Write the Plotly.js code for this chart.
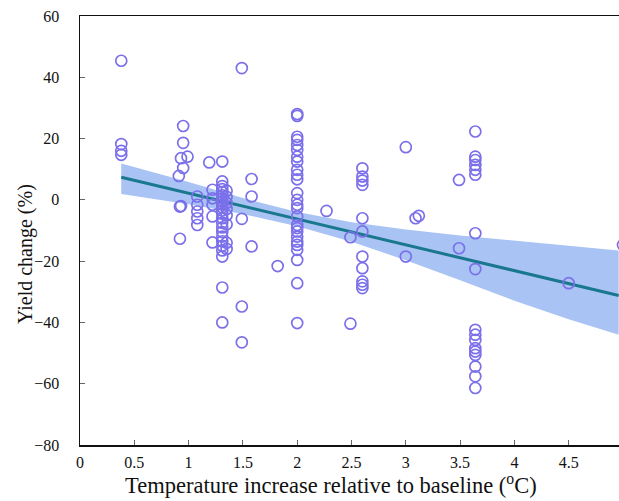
<!DOCTYPE html>
<html>
<head>
<meta charset="utf-8">
<script src="https://cdn.plot.ly/plotly-3.0.1.min.js"></script>
<style>html,body{margin:0;padding:0;background:#fff;}#chart{width:619px;height:501px;}</style>
</head>
<body>
<div id="chart"></div>
<script>
// Observations: temperature increase (°C) and yield change (%)
const tempX = [
  0.38, 0.38, 0.38, 0.38,
  0.95, 0.95, 0.93, 0.99, 0.95, 0.91, 0.92, 0.93, 0.92,
  1.19, 1.31,
  1.08, 1.08, 1.08, 1.08, 1.08,
  1.22, 1.22, 1.22, 1.22, 1.22,
  1.31, 1.31, 1.31, 1.31, 1.31, 1.31, 1.31, 1.31, 1.31, 1.31,
  1.31, 1.31, 1.31, 1.31, 1.31, 1.31, 1.31, 1.31, 1.31, 1.31,
  1.35, 1.35, 1.35, 1.35, 1.35, 1.35, 1.35, 1.35,
  1.31, 1.31, 1.49, 1.49,
  1.49, 1.58, 1.58, 1.49, 1.58,
  1.82,
  2.0, 2.0, 2.0, 2.0, 2.0, 2.0, 2.0, 2.0, 2.0, 2.0, 2.0, 2.0, 2.0,
  2.0, 2.0, 2.0, 2.0, 2.0, 2.0, 2.0, 2.0, 2.0, 2.0, 2.0, 2.0, 2.0,
  2.27,
  2.49, 2.49,
  2.6, 2.6, 2.6, 2.6, 2.6, 2.6, 2.6, 2.6, 2.6, 2.6, 2.6,
  3.0, 3.0, 3.09, 3.12,
  3.49, 3.49,
  3.64, 3.64, 3.64, 3.64, 3.64, 3.64, 3.64, 3.64, 3.64,
  3.64, 3.64, 3.64, 3.64, 3.64, 3.64, 3.64, 3.64,
  4.5,
  5.0
];
const yieldY = [
  45.4, 18.2, 16.0, 14.7,
  24.1, 18.6, 13.6, 14.1, 10.4, 7.8, -2.2, -2.0, -12.7,
  12.2, 12.5,
  1.1, -1.6, -3.8, -6.0, -8.2,
  3.3, 0.5, -1.6, -5.4, -13.9,
  6.0, 4.5, 3.5, 2.5, 1.5, 0.5, -0.5, -1.5, -2.5, -3.5,
  -4.5, -6.0, -7.5, -9.0, -10.5, -12.0, -13.5, -15.0, -16.5, -18.5,
  3.0, 1.0, -1.0, -3.0, -5.0, -8.0, -14.0, -16.0,
  -28.6, -40.0, -34.8, -46.5,
  43.0, 6.8, 1.1, -6.2, -15.2,
  -21.6,
  28.0, 27.4, 20.6, 19.6, 17.9, 16.3, 14.1, 12.5, 9.8, 8.2, 6.7, 2.2, 0.0,
  -1.6, -2.7, -5.4, -8.2, -9.2, -10.3, -12.0, -13.6, -14.7, -16.3, -19.6, -27.2, -40.2,
  -3.6,
  -12.2, -40.4,
  10.3, 7.6, 6.3, 4.9, -6.0, -10.3, -18.5, -22.3, -26.6, -27.7, -28.8,
  17.2, -18.5, -6.0, -5.2,
  6.5, -15.8,
  22.3, 14.1, 13.0, 11.4, 9.8, 8.2, -10.9, -22.6, -42.4,
  -44.0, -45.7, -48.4, -49.5, -50.6, -54.4, -57.6, -61.4,
  -27.2,
  -14.7
];

// Fitted regression line and its confidence band
const fitX     = [0.38, 1.0, 1.5, 2.0, 2.5, 3.0, 3.5, 4.0, 4.5, 4.96];
const fitY     = [7.4, 2.2, -2.0, -6.3, -10.5, -14.7, -18.9, -23.1, -27.3, -31.2];
const fitUpper = [11.9, 5.8, 0.6, -4.0, -7.3, -9.7, -11.6, -13.3, -15.0, -16.5];
const fitLower = [1.9, -1.4, -4.6, -8.6, -13.7, -19.7, -26.2, -32.9, -39.0, -44.0];

const xTickVals = [0, 0.5, 1, 1.5, 2, 2.5, 3, 3.5, 4, 4.5];
const xTickText = ['0', '0.5', '1', '1.5', '2', '2.5', '3', '3.5', '4', '4.5'];
const yTickVals = [-80, -60, -40, -20, 0, 20, 40, 60];

const FONT = '"Liberation Serif", "DejaVu Serif", serif';

const traces = [
  {x: fitX, y: fitLower, type: 'scatter', mode: 'lines', line: {width: 0, color: 'rgba(0,0,0,0)'}, hoverinfo: 'skip', showlegend: false},
  {x: fitX, y: fitUpper, type: 'scatter', mode: 'lines', fill: 'tonexty', fillcolor: '#a9c3f5', line: {width: 0, color: 'rgba(0,0,0,0)'}, hoverinfo: 'skip', showlegend: false},
  {x: fitX, y: fitY, type: 'scatter', mode: 'lines', line: {color: '#19788d', width: 3}, showlegend: false},
  {x: tempX, y: yieldY, type: 'scatter', mode: 'markers', showlegend: false,
   marker: {symbol: 'circle-open', size: 11, color: '#7b70ea', line: {width: 1.7, color: '#7b70ea'}}}
];

const layout = {
  width: 619, height: 501,
  margin: {l: 80, r: 0, t: 16, b: 56, pad: 0},
  paper_bgcolor: '#ffffff', plot_bgcolor: '#ffffff',
  font: {family: FONT, color: '#111', size: 16},
  xaxis: {
    range: [0, 4.963], showgrid: false, zeroline: false,
    showline: true, linecolor: '#111', linewidth: 1.5, mirror: true,
    ticks: 'inside', ticklen: 5, tickwidth: 1, tickcolor: '#666',
    tickvals: xTickVals, ticktext: xTickText, ticklabelstandoff: 2,
    tickfont: {family: FONT, size: 16, color: '#111'}
  },
  yaxis: {
    range: [-80, 60], showgrid: false, zeroline: false,
    showline: true, linecolor: '#111', linewidth: 1.5,
    ticks: 'inside', ticklen: 5, tickwidth: 1, tickcolor: '#666',
    tickvals: yTickVals, ticklabelstandoff: 16,
    tickfont: {family: FONT, size: 16, color: '#111'}
  },
  annotations: [
    {text: 'Temperature increase relative to baseline (<sup>o</sup>C)', xref: 'paper', yref: 'paper',
     x: 0.466, y: -0.054, xanchor: 'center', yanchor: 'top', showarrow: false,
     font: {family: FONT, size: 22.5, color: '#111'}},
    {text: 'Yield change (%)', xref: 'paper', yref: 'paper', textangle: -90,
     x: -0.102, y: 0.445, xanchor: 'center', yanchor: 'middle', showarrow: false,
     font: {family: FONT, size: 20, color: '#111'}}
  ]
};

Plotly.newPlot('chart', traces, layout, {displayModeBar: false, staticPlot: true});
</script>
</body>
</html>
